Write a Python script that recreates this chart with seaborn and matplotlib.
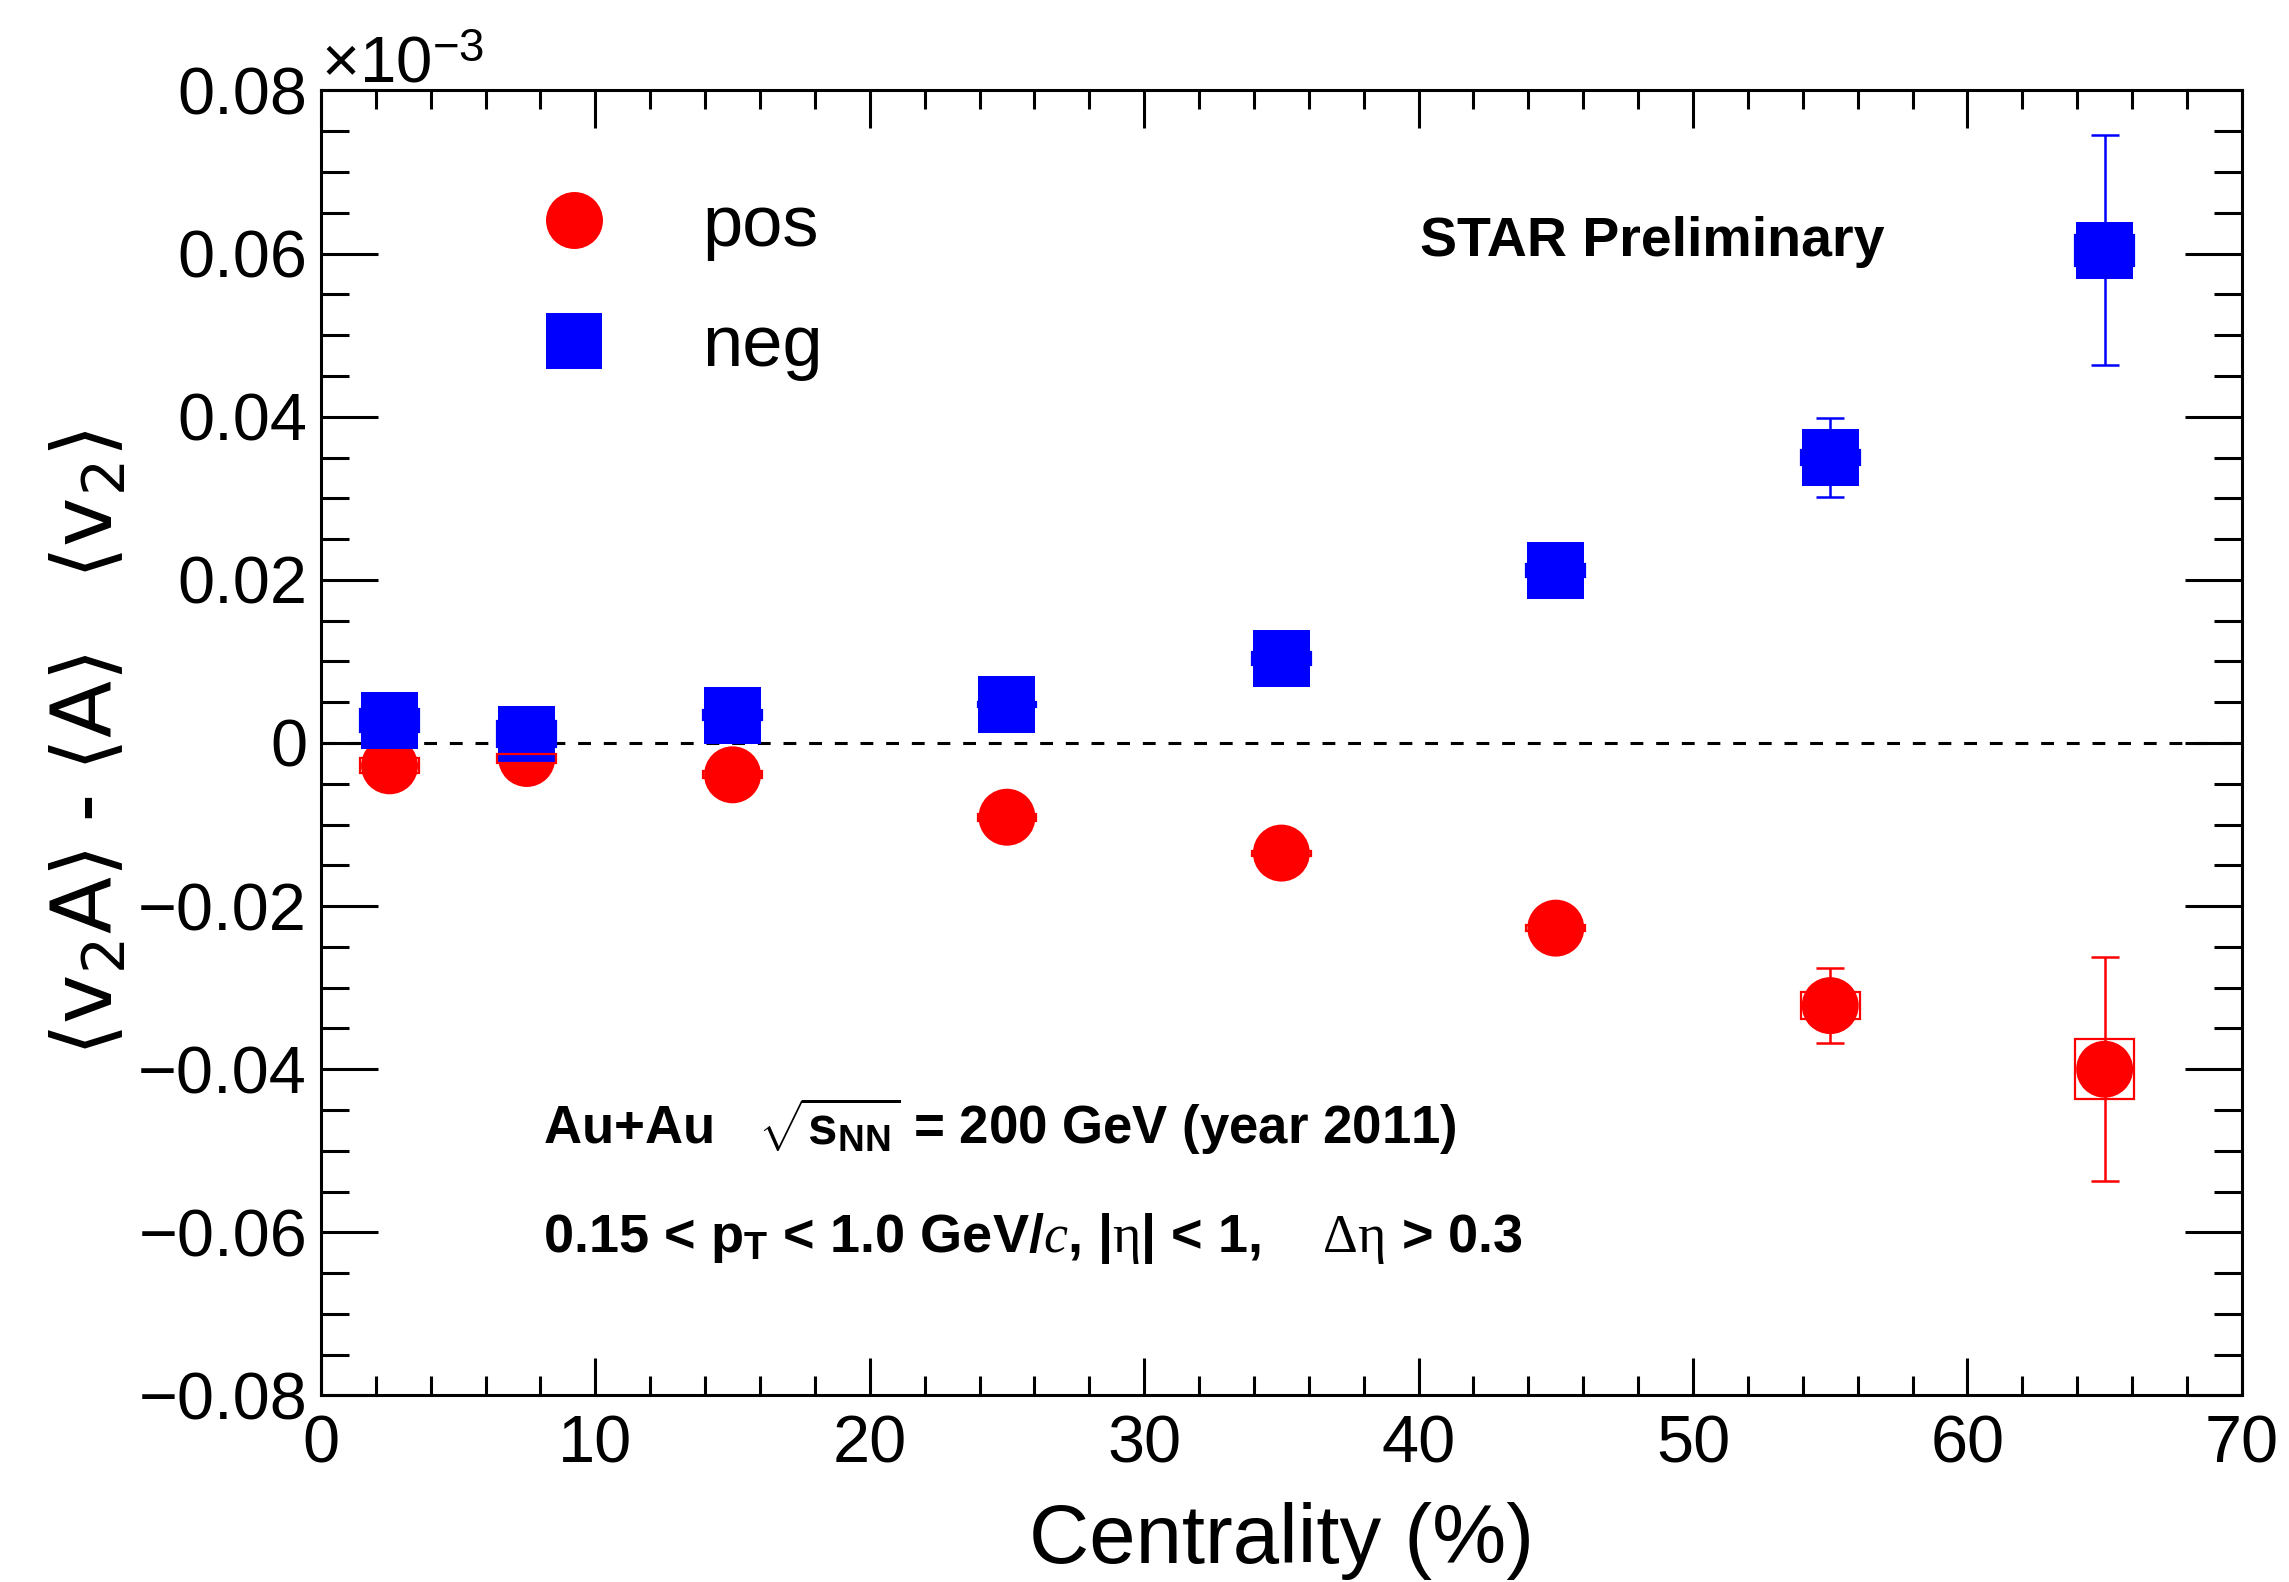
import matplotlib
matplotlib.use("Agg")
import matplotlib.pyplot as plt
from matplotlib.lines import Line2D
from matplotlib.patches import Rectangle
from matplotlib.ticker import MultipleLocator, FuncFormatter
import pandas as pd
import seaborn as sns

# centrality bins (%)
centrality = [2.5, 7.5, 15, 25, 35, 45, 55, 65]

# <v2 A> - <A><v2>, in the units shown on the axis (x 10^-3)
pos_value = [-0.0028, -0.0019, -0.0039, -0.0091, -0.0135, -0.0227, -0.0322, -0.0400]
pos_stat = [0.0010, 0.0010, 0.0008, 0.0010, 0.0012, 0.0016, 0.0046, 0.0137]
pos_sys = [0.0009, 0.0006, 0.00045, 0.00045, 0.0003, 0.0004, 0.0017, 0.0037]

neg_value = [0.0028, 0.0011, 0.0034, 0.0047, 0.0104, 0.0211, 0.0350, 0.0604]
neg_stat = [0.0010, 0.0010, 0.0008, 0.0010, 0.0012, 0.0016, 0.0048, 0.0141]
neg_sys = [0.0014, 0.0016, 0.0006, 0.0003, 0.0008, 0.0008, 0.0009, 0.0019]

series = ["pos", "neg"]
colors = {"pos": "red", "neg": "blue"}
markers = {"pos": "o", "neg": "s"}

sns.set_style("ticks")
plt.rcParams["font.family"] = ["Liberation Sans", "DejaVu Sans"]
plt.rcParams["mathtext.fontset"] = "custom"
plt.rcParams["mathtext.rm"] = "Liberation Serif"
plt.rcParams["mathtext.it"] = "Liberation Serif:italic"
plt.rcParams["mathtext.bf"] = "Liberation Sans:bold"
plt.rcParams["mathtext.sf"] = "Liberation Sans"
plt.rcParams["axes.unicode_minus"] = True
plt.rcParams.update({"text.color": "black", "axes.labelcolor": "black",
                     "xtick.color": "black", "ytick.color": "black",
                     "axes.edgecolor": "black"})

df = pd.concat([
    pd.DataFrame({"centrality": centrality, "value": pos_value, "charge": "pos"}),
    pd.DataFrame({"centrality": centrality, "value": neg_value, "charge": "neg"}),
], ignore_index=True)

fig = plt.figure(figsize=(22.89, 15.82), dpi=100)
ax = fig.add_axes([0.1402, 0.1179, 0.8392, 0.8249])

# stat error bars
ax.errorbar(centrality, pos_value, yerr=pos_stat, fmt="none", ecolor="red",
            elinewidth=1.8, capsize=10, capthick=1.8, zorder=2)
ax.errorbar(centrality, neg_value, yerr=neg_stat, fmt="none", ecolor="blue",
            elinewidth=1.8, capsize=10, capthick=1.8, zorder=2)

sns.scatterplot(data=df, x="centrality", y="value", hue="charge", style="charge",
                hue_order=series, style_order=series, palette=colors, markers=markers,
                s=41 ** 2, linewidth=0, legend=False, ax=ax, zorder=3)

# systematic boxes
for vals, sys_err, name in [(pos_value, pos_sys, "pos"), (neg_value, neg_sys, "neg")]:
    for c, v, s in zip(centrality, vals, sys_err):
        ax.add_patch(Rectangle((c - 1.07, v - s), 2.14, 2 * s, fill=False,
                               edgecolor=colors[name], linewidth=1.6, zorder=4))

ax.axhline(0, color="black", linewidth=2.2, linestyle=(0, (4.2, 4.2)), zorder=1)

ax.set_xlim(0, 70)
ax.set_ylim(-0.08, 0.08)
ax.xaxis.set_major_locator(MultipleLocator(10))
ax.xaxis.set_minor_locator(MultipleLocator(2))
ax.yaxis.set_major_locator(MultipleLocator(0.02))
ax.yaxis.set_minor_locator(MultipleLocator(0.005))
ax.yaxis.set_major_formatter(FuncFormatter(
    lambda v, p: "0" if abs(v) < 1e-9 else f"{v:.2f}".replace("-", "\u2212")))

for side in ax.spines.values():
    side.set_linewidth(2.2)
ax.tick_params(which="both", direction="in", top=True, right=True, width=2.2, colors="black")
ax.tick_params(axis="x", which="major", length=27, pad=14, labelsize=48)
ax.tick_params(axis="x", which="minor", length=13.5)
ax.tick_params(axis="y", which="major", length=41, pad=10, labelsize=48)
ax.tick_params(axis="y", which="minor", length=20.5)

ax.set_xlabel("Centrality (%)", fontsize=60)
ax.xaxis.set_label_coords(0.5, -0.082)
ax.set_ylabel(r"$\langle\mathrm{v}_{2}\mathrm{A}\rangle$ - $\langle\mathrm{A}\rangle$   $\langle\mathrm{v}_{2}\rangle$",
              fontsize=60, math_fontfamily="dejavusans")
ax.yaxis.set_label_coords(-0.100, 0.5)

ax.text(0.0, 1.0065, r"×10$^{\mathsf{-3}}$", transform=ax.transAxes, ha="left", va="baseline",
        fontsize=47)

ax.text(0.572, 0.873, "STAR Preliminary", transform=ax.transAxes, fontsize=40,
        fontweight="bold", ha="left", va="baseline")
ax.text(0.1156, 0.193, r"Au+Au   $\sqrt{\mathbf{s}_{\mathbf{NN}}}$ = 200 GeV (year 2011)",
        transform=ax.transAxes, fontsize=38, fontweight="bold",
        ha="left", va="baseline")
ax.text(0.1156, 0.110, r"0.15 < p$_{\mathbf{T}}$ < 1.0 GeV/$c$, |$\mathrm{\eta}$| < 1,    $\mathrm{\Delta\eta}$ > 0.3",
        transform=ax.transAxes, fontsize=39, fontweight="bold",
        ha="left", va="baseline")

handles = [Line2D([], [], linestyle="none", marker=markers[n], markersize=41,
                  color=colors[n], markeredgewidth=0) for n in series]
ax.legend(handles, series, loc="upper left", bbox_to_anchor=(0.113, 0.921), frameon=False,
          fontsize=52, handlelength=1.0, handletextpad=1.27, labelspacing=0.74,
          borderpad=0, borderaxespad=0)

fig.savefig("out.png", dpi=100, facecolor="white")
